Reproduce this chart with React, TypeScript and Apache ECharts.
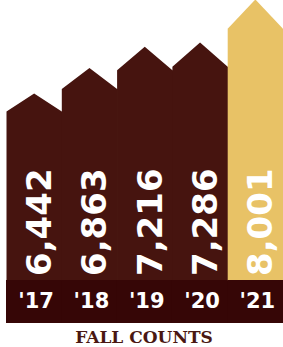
import React, { useEffect, useRef } from "react";
import * as echarts from "echarts";

const years = ["'17", "'18", "'19", "'20", "'21"];
const counts = [6442, 6863, 7216, 7286, 8001];
const valueLabels = ["6,442", "6,863", "7,216", "7,286", "8,001"];
const axisMin = 3270;
const axisMax = 8540;

const MAROON = "#46140f";
const BAND = "#360606";
const GOLD = "#e8c266";

export default function App() {
  const ref = useRef<HTMLDivElement>(null);
  useEffect(() => {
    document.body.style.margin = "0";
    if (!ref.current) return;
    const chart = echarts.init(ref.current, null, { renderer: "svg" });
    const renderItem = (params: any, api: any) => {
      const idx = api.value(0);
      const val = api.value(1);
      const pt = api.coord([idx, val]);
      const bottom = api.coord([idx, axisMin])[1];
      const w = api.size([1, 0])[0];
      const cx = pt[0];
      const left = cx - w / 2;
      const right = cx + w / 2 + (idx === years.length - 1 ? 0 : 0.8);
      const top = pt[1];
      const rise = 18 + (112 - top) * 0.134;
      const color = idx === years.length - 1 ? GOLD : MAROON;
      return {
        type: "group",
        children: [
          {
            type: "polygon",
            shape: {
              points: [
                [left, bottom + 1],
                [left, top],
                [cx, top - rise],
                [cx + w / 2, top],
                [right, top],
                [right, bottom + 1],
              ],
            },
            style: { fill: color },
          },
          {
            type: "rect",
            shape: { x: left - 0.5, y: bottom, width: w + 1, height: 43 },
            style: { fill: BAND },
          },
          {
            type: "text",
            x: cx + 5,
            y: bottom - 4,
            rotation: Math.PI / 2,
            style: {
              text: valueLabels[idx],
              fill: "#ffffff",
              font: "bold 34px 'DejaVu Sans'",
              align: "left",
              verticalAlign: "middle",
            },
          },
        ],
      };
    };
    chart.setOption({
      animation: false,
      title: {
        text: "FALL COUNTS",
        left: 144,
        textAlign: "center",
        top: 328,
        padding: 0,
        textStyle: {
          fontFamily: "DejaVu Serif",
          fontWeight: "bold",
          fontSize: 17,
          lineHeight: 17,
          color: "#4a1712",
        },
      },
      grid: { left: 6.5, right: 0, top: 0, height: 280 },
      xAxis: {
        type: "category",
        data: years,
        z: 10,
        axisLine: { show: false },
        axisTick: { show: false },
        axisLabel: {
          color: "#ffffff",
          fontFamily: "DejaVu Sans",
          fontWeight: "bold",
          fontSize: 21,
          margin: 10,
          padding: [0, 0, 0, 4],
        },
      },
      yAxis: {
        type: "value",
        min: axisMin,
        max: axisMax,
        show: false,
      },
      series: [
        {
          type: "custom",
          clip: false,
          renderItem,
          data: counts.map((v, i) => [i, v]),
        },
      ],
    });
    return () => chart.dispose();
  }, []);
  return (
    <div
      ref={ref}
      style={{ position: "absolute", left: 0, top: 0, width: 283, height: 347 }}
    />
  );
}
